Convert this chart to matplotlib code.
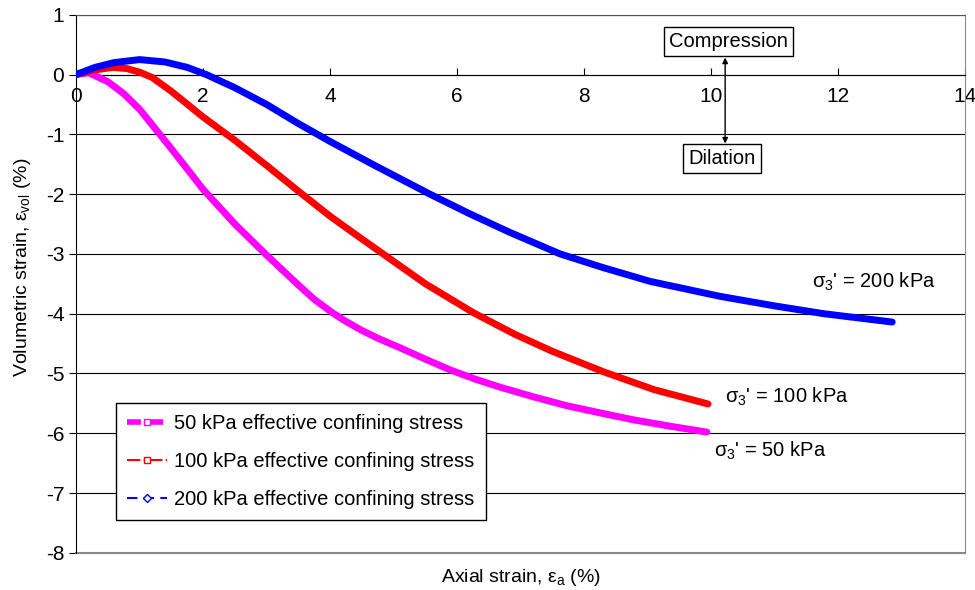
import matplotlib
matplotlib.use("Agg")
import matplotlib.pyplot as plt
from matplotlib.lines import Line2D

plt.rcParams['font.family'] = ['Liberation Sans', 'DejaVu Sans']
plt.rcParams['mathtext.fontset'] = 'custom'
plt.rcParams['mathtext.rm'] = 'Liberation Sans'
plt.rcParams['mathtext.it'] = 'Liberation Sans:italic'
plt.rcParams['axes.unicode_minus'] = False

# data (axial strain %, volumetric strain %)
x_50 = [0, 0.2, 0.5, 0.75, 1.0, 1.5, 2.0, 2.5, 2.98, 3.25, 3.5, 3.75, 4.03, 4.25, 4.5, 4.75,
        5.1, 5.5, 5.89, 6.3, 6.68, 7.2, 7.73, 8.3, 8.8, 9.4, 9.93]
y_50 = [0, 0.03, -0.12, -0.32, -0.58, -1.24, -1.92, -2.5, -3.0, -3.27, -3.52, -3.76, -3.98, -4.13,
        -4.28, -4.41, -4.57, -4.76, -4.94, -5.1, -5.23, -5.39, -5.54, -5.67, -5.78, -5.89, -5.98]

x_100 = [0, 0.25, 0.58, 0.8, 1.0, 1.2, 1.5, 2.0, 2.5, 3.0, 3.5, 4.0, 4.5, 4.9, 5.5, 6.25,
         6.9, 7.5, 8.3, 9.1, 9.95]
y_100 = [0, 0.07, 0.12, 0.1, 0.04, -0.05, -0.28, -0.71, -1.1, -1.52, -1.95, -2.37, -2.75,
         -3.05, -3.5, -3.98, -4.34, -4.63, -4.97, -5.27, -5.51]

x_200 = [0, 0.3, 0.6, 1.0, 1.4, 1.75, 2.05, 2.5, 3.0, 3.5, 4.0, 4.72, 5.57, 6.2, 6.83, 7.62,
         8.3, 9.04, 10.14, 11.0, 11.77, 12.85]
y_200 = [0, 0.12, 0.2, 0.25, 0.21, 0.12, 0.0, -0.22, -0.5, -0.82, -1.12, -1.53, -2.0, -2.33,
         -2.64, -3.0, -3.23, -3.46, -3.71, -3.87, -4.0, -4.14]

labels = ['50 kPa effective confining stress',
          '100 kPa effective confining stress',
          '200 kPa effective confining stress']
colors = ['#FF00FF', '#FF0000', '#0000FF']

fig = plt.figure(figsize=(9.75, 5.9), dpi=100)
ax = fig.add_axes([0.078, 0.063, 0.912, 0.912])

ax.plot(x_50, y_50, color=colors[0], lw=5, solid_capstyle='round', solid_joinstyle='round', zorder=3)
ax.plot(x_100, y_100, color=colors[1], lw=5, solid_capstyle='round', solid_joinstyle='round', zorder=3)
ax.plot(x_200, y_200, color=colors[2], lw=5, solid_capstyle='round', solid_joinstyle='round', zorder=4)

ax.set_xlim(0, 14)
ax.set_ylim(-8, 1)
ax.set_xticks(range(0, 15, 2))
ax.set_yticks(range(-8, 2))
ax.yaxis.grid(True, color='black', lw=0.8)
ax.set_axisbelow(True)

ax.spines['bottom'].set_position(('data', 0))
ax.spines['bottom'].set_color('black')
ax.spines['left'].set_color('black')
ax.spines['right'].set_color('#888888')
ax.spines['top'].set_color('#555555')
ax.axhline(-8, color='#888888', lw=1.5, clip_on=False)

ax.tick_params(axis='x', direction='in', length=5, labelsize=15, pad=9)
ax.tick_params(axis='y', direction='out', length=5, labelsize=15)

ax.set_xlabel(r'Axial strain, $\mathregular{ε_a}$ (%)', fontsize=14)
ax.xaxis.set_label_coords(0.5, -0.026)
ax.set_ylabel(r'Volumetric strain, $\mathregular{ε_{vol}}$ (%)', fontsize=14)
ax.yaxis.set_label_coords(-0.048, 0.53)

ax.text(11.59, -3.47, r"$\mathregular{σ_3}$' = 200 kPa", fontsize=14.5, va='center')
ax.text(10.22, -5.39, r"$\mathregular{σ_3}$' = 100 kPa", fontsize=14.5, va='center')
ax.text(10.05, -6.3, r"$\mathregular{σ_3}$' = 50 kPa", fontsize=14.5, va='center')

box = dict(boxstyle='square,pad=0.25', fc='white', ec='black', lw=1)
ax.annotate('', xy=(10.22, 0.33), xytext=(10.22, -1.2),
            arrowprops=dict(arrowstyle='<|-|>', color='black', lw=1, mutation_scale=8))
ax.text(10.27, 0.56, 'Compression', fontsize=14.5, ha='center', va='center', bbox=box)
ax.text(10.17, -1.41, 'Dilation', fontsize=14.5, ha='center', va='center', bbox=box)

handles = [
    Line2D([], [], color=colors[0], lw=4, ls=(0, (2.5, 1.5)), marker='s', ms=5,
           mfc='white', mec=colors[0], markevery=[1]),
    Line2D([], [], color=colors[1], lw=1.5, ls='-.', marker='s', ms=5,
           mfc='white', mec=colors[1], markevery=[1]),
    Line2D([], [], color=colors[2], lw=1.5, ls=(0, (5, 3)), marker='D', ms=4,
           mfc='white', mec=colors[2], markevery=[1]),
]
for h in handles:
    h.set_xdata([0, 0.5, 1])
    h.set_ydata([0, 0, 0])
leg = ax.legend(handles, labels, loc='lower left', bbox_to_anchor=(0.045, 0.061),
                borderaxespad=0, fontsize=14.5, frameon=True, fancybox=False,
                framealpha=1, edgecolor='black', handlelength=2.0, handletextpad=0.35,
                labelspacing=0.95, borderpad=0.55)
leg.get_frame().set_linewidth(1)

fig.savefig('out.png', dpi=100)
